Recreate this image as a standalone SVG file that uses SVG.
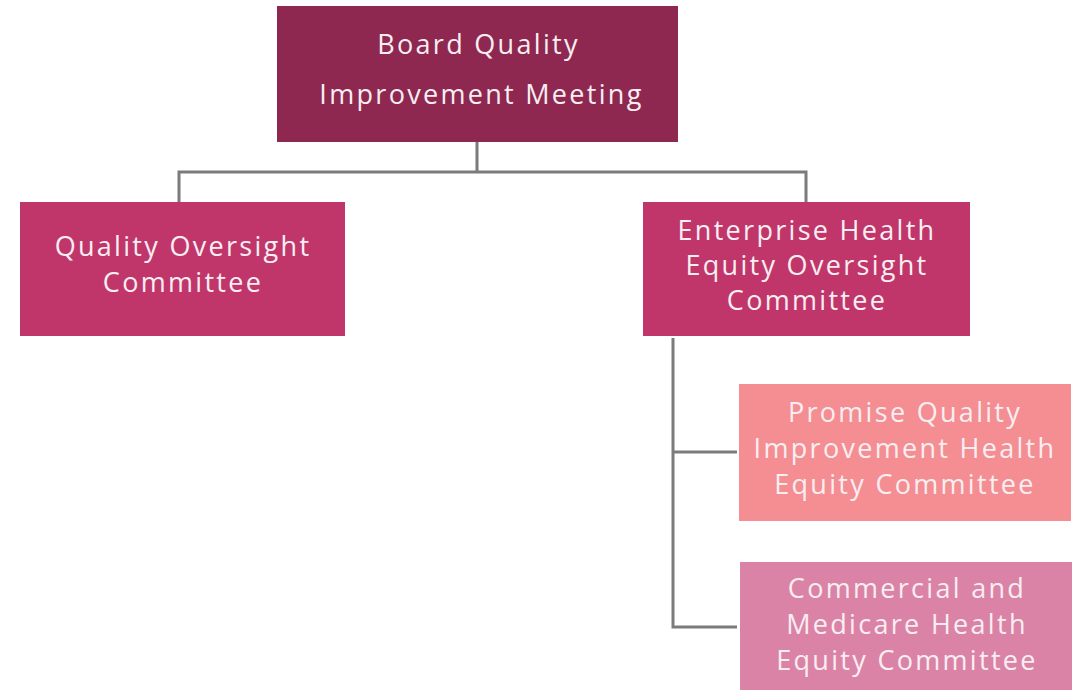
<svg xmlns="http://www.w3.org/2000/svg" width="1081" height="690" viewBox="0 0 1081 690">
  <style>
    .box-label { font-family: "Open Sans", "Liberation Sans", sans-serif; font-size: 27px; letter-spacing: 2.3px; fill: #F8EEF2; text-anchor: middle; }
    .link { fill: none; stroke: #7B7B7B; stroke-width: 3; }
  </style>
  <rect x="0" y="0" width="1081" height="690" fill="#FFFFFF"/>

  <g id="connectors">
    <path class="link" d="M477 142 V172 M179 202 V172 H806 V202"/>
    <path class="link" d="M673 338 V627 H737 M673 452 H737"/>
  </g>

  <g id="board-quality">
    <rect x="277" y="6" width="401" height="136" fill="#8E2850"/>
    <text class="box-label" x="478.5" y="54">Board Quality</text>
    <text class="box-label" x="481.5" y="104">Improvement Meeting</text>
  </g>

  <g id="quality-oversight">
    <rect x="20" y="202" width="325" height="134" fill="#C0366A"/>
    <text class="box-label" x="183" y="256">Quality Oversight</text>
    <text class="box-label" x="183" y="292">Committee</text>
  </g>

  <g id="enterprise-health-equity">
    <rect x="643" y="202" width="327" height="134" fill="#C0366A"/>
    <text class="box-label" x="807" y="240">Enterprise Health</text>
    <text class="box-label" x="807" y="275">Equity Oversight</text>
    <text class="box-label" x="807" y="310">Committee</text>
  </g>

  <g id="promise-quality">
    <rect x="739" y="384" width="332" height="137" fill="#F48E92"/>
    <text class="box-label" x="905" y="422">Promise Quality</text>
    <text class="box-label" x="905" y="458">Improvement Health</text>
    <text class="box-label" x="905" y="494">Equity Committee</text>
  </g>

  <g id="commercial-medicare">
    <rect x="740" y="562" width="332" height="128" fill="#DB83A6"/>
    <text class="box-label" x="907" y="598">Commercial and</text>
    <text class="box-label" x="907" y="634">Medicare Health</text>
    <text class="box-label" x="907" y="670">Equity Committee</text>
  </g>
</svg>
